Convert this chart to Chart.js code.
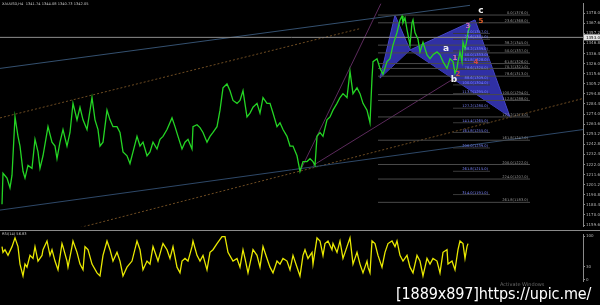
<!DOCTYPE html>
<html><head><meta charset="utf-8">
<script src="https://cdn.jsdelivr.net/npm/chart.js@4/dist/chart.umd.min.js"></script>
<style>
html,body{margin:0;padding:0;background:#000;width:600px;height:305px;overflow:hidden;position:relative}
#main{position:absolute;left:0;top:0}
#osc{position:absolute;left:0;top:231px}
#sep{position:absolute;left:0;top:230px;width:600px;height:1px;background:#8a8a8a}
#wm{position:absolute;left:396px;top:284px;color:#fff;font-family:"DejaVu Sans";font-size:16px;font-stretch:condensed;letter-spacing:-0.1px;white-space:nowrap}
#aw{position:absolute;left:500px;top:281px;color:#6a6a6a;font-family:"DejaVu Sans";font-size:5px;white-space:nowrap}
</style></head>
<body>
<canvas id="main" width="600" height="230"></canvas>
<div id="sep"></div>
<canvas id="osc" width="600" height="54"></canvas>
<div id="aw">Activate Windows</div>
<div id="wm">[1889x897]https://upic.me/</div>
<script>
// ---- price series (bar number, close price) ----
const priceBars = [2,3,7,10,12,13,15,18,20,23,
 25,28,32,35,38,40,43,48,52,55,
 57,60,63,67,70,73,77,80,83,87,
 92,95,98,100,103,107,110,113,117,120,
 123,127,130,133,137,140,143,147,150,153,
 157,160,163,167,172,175,178,182,185,188,
 192,193,197,200,203,207,210,213,217,220,
 223,227,230,233,237,240,243,247,250,253,
 257,260,263,267,270,273,277,280,283,287,
 290,293,297,300,303,307,310,313,315,317,
 320,323,327,330,333,337,340,343,347,350,
 353,357,360,363,367,370,372,373,377,380,
 383,387,390,393,397,400,402,403,405,407,
 410,412,413,415,418,420,423,427,430,433,
 437,440,443,447,450,453,455,457,458,460,
 462,463,465,467,468,470];
const priceValues = [1181,1213,1208,1198,1211,1231,1271,1251,1241,1215,
 1208,1221,1218,1248,1235,1218,1231,1261,1245,1241,
 1228,1245,1258,1241,1255,1285,1268,1281,1268,1258,
 1291,1268,1258,1241,1245,1278,1268,1261,1261,1255,
 1235,1231,1223,1235,1251,1241,1245,1231,1235,1245,
 1238,1248,1251,1258,1270,1261,1251,1238,1245,1248,
 1238,1261,1263,1260,1255,1245,1251,1255,1261,1278,
 1301,1305,1298,1288,1285,1288,1298,1271,1275,1281,
 1285,1275,1291,1285,1285,1275,1261,1265,1258,1251,
 1241,1241,1231,1215,1225,1225,1228,1225,1221,1251,
 1255,1251,1268,1271,1278,1285,1291,1295,1291,1318,
 1295,1301,1295,1285,1278,1265,1311,1328,1331,1321,
 1315,1328,1331,1345,1358,1371,1375,1368,1373,1361,
 1345,1368,1371,1358,1351,1338,1348,1335,1331,1335,
 1338,1335,1328,1321,1331,1328,1316,1321,1328,1338,
 1328,1348,1341,1351,1358,1366];

// ---- oscillator series (bar number, value 0-100) ----
const oscBars = [2,3,5,8,12,15,18,20,23,25,27,30,33,35,38,42,43,47,50,52,
 55,58,62,63,67,68,72,73,77,80,83,85,88,92,97,100,103,107,110,113,
 117,120,123,127,132,137,140,143,147,150,153,155,158,162,163,167,170,173,177,180,
 182,185,188,192,193,197,200,203,207,210,213,217,222,225,228,233,237,240,243,245,
 248,253,257,260,263,267,270,273,277,280,283,287,290,293,297,300,303,305,308,312,
 313,317,320,323,325,328,332,333,337,340,343,347,350,353,357,360,363,367,368,370,
 372,375,378,382,385,388,392,395,397,400,403,407,410,413,417,420,423,427,430,433,
 437,440,443,447,448,452,455,458,460,463,465,467,468];
const oscValues = [76,63,69,56,76,96,76,36,9,36,29,56,49,76,43,56,69,89,56,69,
 43,23,83,76,43,29,76,89,63,36,23,76,69,36,16,9,56,89,69,43,
 63,43,9,29,43,89,69,23,43,36,76,63,43,76,83,69,49,76,29,16,
 43,49,43,76,89,56,43,56,23,63,69,83,99,99,63,43,49,29,69,49,
 16,69,56,29,76,49,29,16,43,36,49,43,23,56,29,9,56,69,49,63,
 36,96,89,56,83,89,69,83,63,89,49,76,96,36,63,36,16,43,29,16,
 89,83,56,29,63,83,89,76,89,56,43,56,29,16,56,43,9,49,36,49,
 43,16,63,69,36,43,23,69,89,83,49,76,83];

// ---- axis tick labels ----
const priceTicks = [1378.0,1367.6,1357.2,1346.8,1336.4,1326.0,1315.6,1305.2,1294.8,1284.4,1274.0,
 1263.6,1253.2,1242.8,1232.4,1222.0,1211.6,1201.2,1190.8,1180.4,1170.0,1159.6];
const oscTicks = [100,30,0];
const currentPrice = 1353.0;

// ---- harmonic pattern points X A B C D ----
const patternBars = [380,395,410,475,510];
const patternPrices = [1311,1376,1340,1371,1271];
const patternLetters = ['a','b','c'];
const letterBars = [446,454,481];
const letterPrices = [1341,1309,1381];
const waveNumbers = ['1','2','3','4','5'];
const waveBars = [455,458,468,476,481];
const wavePrices = [1332,1315,1365,1327,1370];

// ---- fibonacci levels ----
const fibLongLevels = ['0.0','23.6','38.2','50.0','61.8','70.7','78.6','100.0','112.8','127.2','161.8','200.0','224.0','261.8'];
const fibLongPrices = [1376,1368,1345,1337,1326,1321,1313,1294,1288,1271,1247,1222,1207,1183];
const fibLongFrom = 378, fibLongTo = 530;
const fibShortLevels = ['0.0','23.6','38.2','50.0','61.8','78.6','88.6','100.0','113.0','127.2','141.4','161.8','200.0','261.8','314.0'];
const fibShortPrices = [1357,1351,1339,1333,1328,1320,1309,1304,1295,1280,1265,1255,1239,1215,1191];
const fibShortFrom = 453, fibShortTo = 490;

// ---- trend lines (start bar, start price, end bar, end price) ----
const trendStartBars  = [0,0,0,80,300,313];
const trendStartPrices= [1321,1270,1175,1157,1215,1221];
const trendEndBars    = [470,360,583,583,381,453];
const trendEndPrices  = [1386,1362,1258,1290,1388,1310];
const trendColors = ['#34506f','#6e4c22','#2e4868','#6e4c22','#5c2a5c','#5c2a5c'];
const trendDash = [[],[2,2],[],[2,2],[],[]];

const pts = (bars, vals) => bars.map((b,i)=>({x:b,y:vals[i]}));
const P = i => ({x:patternBars[i], y:patternPrices[i]});

const mainSets = [];
mainSets.push({data:[P(0),P(1),P(2)], borderColor:'#4646c8', borderWidth:1, backgroundColor:'rgba(52,52,178,0.92)', fill:'+1', order:9});
mainSets.push({data:[P(0),P(2)], borderColor:'#4646c8', borderWidth:1, fill:false, order:9});
mainSets.push({data:[P(2),P(3),P(4)], borderColor:'#4646c8', borderWidth:1, backgroundColor:'rgba(52,52,178,0.92)', fill:'+1', order:9});
mainSets.push({data:[P(2),P(4)], borderColor:'#4646c8', borderWidth:1, fill:false, order:9});
trendStartBars.forEach((b,i)=>mainSets.push({data:[{x:b,y:trendStartPrices[i]},{x:trendEndBars[i],y:trendEndPrices[i]}],
  borderColor:trendColors[i], borderWidth:1, borderDash:trendDash[i], fill:false, order:7}));
fibLongPrices.forEach(p=>mainSets.push({data:[{x:fibLongFrom,y:p},{x:fibLongTo,y:p}], borderColor:'#4a4a4a', borderWidth:1, fill:false, order:5}));
fibShortPrices.forEach(p=>mainSets.push({data:[{x:fibShortFrom,y:p},{x:fibShortTo,y:p}], borderColor:'#3a3a3a', borderWidth:1, fill:false, order:5}));
mainSets.push({data:[{x:0,y:currentPrice},{x:583,y:currentPrice}], borderColor:'#8e8e8e', borderWidth:1, fill:false, order:4});
mainSets.push({data:pts(priceBars, priceValues), borderColor:'#24d424', borderWidth:1.3, fill:false, order:0});

const textPlugin = {
  id:'texts',
  afterDatasetsDraw(chart, args, opts){
    const {ctx, scales:{x,y}} = chart;
    ctx.save();
    (opts.items||[]).forEach(it=>{
      ctx.font = it.font; ctx.fillStyle = it.color;
      ctx.textAlign = it.align||'left'; ctx.textBaseline = it.baseline||'alphabetic';
      const px = it.px!==undefined ? it.px : x.getPixelForValue(it.x);
      const py = it.py!==undefined ? it.py : y.getPixelForValue(it.y);
      ctx.fillText(it.text, px, py);
    });
    (opts.boxes||[]).forEach(b=>{
      const py = y.getPixelForValue(b.y);
      ctx.fillStyle = '#e8e8e8'; ctx.fillRect(584, py-3, 16, 6);
      ctx.fillStyle = '#000'; ctx.font = '4px "DejaVu Sans"'; ctx.textAlign='left'; ctx.textBaseline='middle';
      ctx.fillText(b.text, 586, py+0.3);
    });
    ctx.restore();
  }
};

const mainItems = [];
mainItems.push({text:'XAUUSD,H4  1341.74 1344.08 1340.73 1342.05', px:2, py:2, font:'3.6px "DejaVu Sans"', color:'#c8c8c8', baseline:'top'});
fibLongPrices.forEach((p,i)=>mainItems.push({text:fibLongLevels[i]+'('+p.toFixed(1)+')', x:fibLongTo-2, y:p, font:'3.6px "DejaVu Sans"', color:'#9a9a9a', align:'right', baseline:'bottom'}));
fibShortPrices.forEach((p,i)=>mainItems.push({text:fibShortLevels[i]+'('+p.toFixed(1)+')', x:fibShortTo-2, y:p, font:'3.6px "DejaVu Sans"', color:'#7c86ff', align:'right', baseline:'bottom'}));
patternLetters.forEach((t,i)=>mainItems.push({text:t, x:letterBars[i], y:letterPrices[i], font:'bold 9px "DejaVu Sans"', color:'#f0f0f0', align:'center', baseline:'middle'}));
const waveCols = ['#d070c0','#d04848','#d070c0','#d04848','#e0602a'];
waveNumbers.forEach((t,i)=>mainItems.push({text:t, x:waveBars[i], y:wavePrices[i], font:'bold 7px "DejaVu Sans"', color:waveCols[i], align:'center', baseline:'middle'}));

const axisY = (min,max,ticks,fmt)=>({
  position:'right', min, max,
  afterFit(s){ s.width = 17; },
  afterBuildTicks(s){ s.ticks = ticks.map(v=>({value:v})); },
  grid:{drawOnChartArea:false, drawTicks:true, tickLength:2, color:'#8a8a8a'},
  border:{display:true, color:'#8a8a8a'},
  ticks:{autoSkip:false, padding:1, color:'#b4b4b4', font:{size:4, family:'DejaVu Sans'}, callback:fmt}
});

new Chart(document.getElementById('main'), {
  type:'line',
  data:{datasets:mainSets},
  plugins:[textPlugin],
  options:{
    responsive:false, animation:false, events:[],
    layout:{padding:0},
    elements:{point:{radius:0}, line:{tension:0}},
    plugins:{legend:{display:false}, tooltip:{enabled:false},
      texts:{items:mainItems, boxes:[{y:currentPrice, text:currentPrice.toFixed(1)}]}},
    scales:{
      x:{type:'linear', min:0, max:583, display:false},
      y:axisY(1158,1388,priceTicks,v=>Number(v).toFixed(1))
    }
  }
});

new Chart(document.getElementById('osc'), {
  type:'line',
  data:{datasets:[{data:pts(oscBars, oscValues), borderColor:'#e8e800', borderWidth:1.3, fill:false}]},
  plugins:[textPlugin],
  options:{
    responsive:false, animation:false, events:[],
    layout:{padding:0},
    elements:{point:{radius:0}, line:{tension:0}},
    plugins:{legend:{display:false}, tooltip:{enabled:false},
      texts:{items:[{text:'RSI(14) 56.83', px:2, py:1.5, font:'3.6px "DejaVu Sans"', color:'#c8c8c8', baseline:'top'}]}},
    scales:{
      x:{type:'linear', min:0, max:583, display:false},
      y:axisY(-4,104,oscTicks,v=>String(v))
    }
  }
});
</script>
</body></html>
